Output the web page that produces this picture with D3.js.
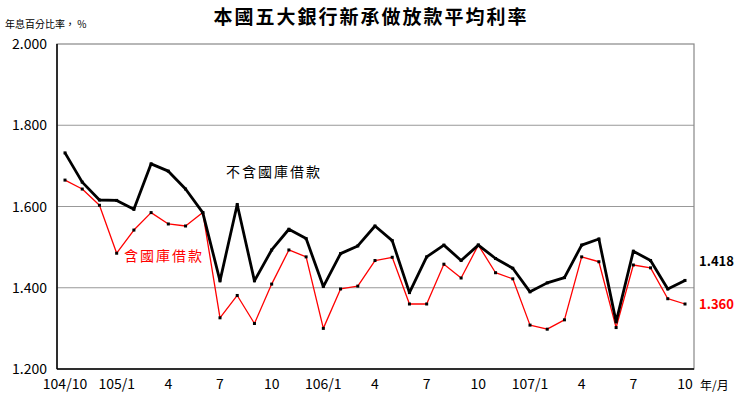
<!DOCTYPE html>
<html><head><meta charset="utf-8">
<script src="https://cdn.jsdelivr.net/npm/d3@7"></script>
<style>body{margin:0;background:#fff}text{font-family:"Noto Sans CJK TC","Liberation Serif",serif}</style>
</head><body><div id="chart"></div>
<script>
// 月份 104/10 ~ 107/10
const months = d3.range(37);
const tickLabels = ["104/10","105/1","4","7","10","106/1","4","7","10","107/1","4","7","10"];
const exclTreasury = [1.732,1.660,1.616,1.615,1.593,1.705,1.687,1.643,1.585,1.417,1.605,1.417,1.493,1.544,1.521,1.403,1.484,1.503,1.552,1.516,1.388,1.476,1.505,1.467,1.505,1.472,1.448,1.390,1.412,1.425,1.505,1.520,1.316,1.490,1.467,1.397,1.418];
const inclTreasury = [1.665,1.643,1.603,1.485,1.542,1.585,1.557,1.552,1.585,1.326,1.381,1.312,1.409,1.493,1.476,1.300,1.397,1.404,1.467,1.475,1.360,1.360,1.458,1.424,1.505,1.437,1.422,1.308,1.298,1.321,1.476,1.464,1.302,1.456,1.449,1.373,1.360];
const yTicks = [1.2,1.4,1.6,1.8,2.0];

const W = 742, H = 403;
const svg = d3.select('#chart').append('svg').attr('width', W).attr('height', H);

const x = d3.scaleLinear().domain([0, 36]).range([65, 685]);
const y = d3.scaleLinear().domain([1.2, 2.0]).range([369, 44]);

// 格線
svg.selectAll('.grid').data(yTicks.slice(1, 4)).join('line')
    .attr('x1', 57).attr('x2', 694)
    .attr('y1', d => y(d)).attr('y2', d => y(d))
    .attr('stroke', '#999').attr('stroke-width', 1.2);
svg.append('rect').attr('x', 57).attr('y', 44).attr('width', 637).attr('height', 325)
    .attr('fill', 'none').attr('stroke', '#888').attr('stroke-width', 1.2);
svg.append('line').attr('x1', 57).attr('x2', 57).attr('y1', 44).attr('y2', 369).attr('stroke', '#000').attr('stroke-width', 1.5);
svg.append('line').attr('x1', 57).attr('x2', 694).attr('y1', 369).attr('y2', 369).attr('stroke', '#000').attr('stroke-width', 1.5);

svg.selectAll('.yl').data(yTicks).join('text')
    .attr('x', 47).attr('y', d => y(d) + 5).attr('text-anchor', 'end')
    .attr('font-size', 14).attr('font-family', 'Liberation Serif').text(d => d.toFixed(3));
svg.selectAll('.xl').data(tickLabels).join('text')
    .attr('x', (d, i) => x(i * 3)).attr('y', 389).attr('text-anchor', 'middle')
    .attr('font-size', 14).attr('font-family', 'Liberation Serif').text(d => d);

const line = d3.line().x((d, i) => x(months[i])).y(d => y(d));
function series(data, color, w) {
    svg.append('path').datum(data).attr('d', line).attr('fill', 'none')
        .attr('stroke', color).attr('stroke-width', w).attr('stroke-linejoin', 'round');
    svg.selectAll(null).data(data).join('rect')
        .attr('x', (d, i) => x(months[i]) - 1.5).attr('y', d => y(d) - 1.5)
        .attr('width', 3).attr('height', 3).attr('fill', '#000');
}
series(inclTreasury, '#ff0000', 1.3);
series(exclTreasury, '#000', 2.8);

svg.append('text').attr('x', W / 2).attr('y', 24).attr('text-anchor', 'middle')
    .attr('font-size', 19).attr('font-weight', 'bold').attr('letter-spacing', 2).text('本國五大銀行新承做放款平均利率');
svg.append('text').attr('x', 5).attr('y', 28).attr('font-size', 10).text('年息百分比率， %');
svg.append('text').attr('x', 700).attr('y', 390).attr('font-size', 12).text('年/月');
svg.append('text').attr('x', 226).attr('y', 177).attr('font-size', 14).attr('letter-spacing', 2).text('不含國庫借款');
svg.append('text').attr('x', 124).attr('y', 261).attr('font-size', 14).attr('letter-spacing', 2).attr('fill', '#ff0000').text('含國庫借款');
svg.append('text').attr('x', 699).attr('y', y(1.418) - 14).attr('font-size', 13).attr('font-weight', 'bold')
    .attr('font-family', 'Liberation Serif').text(exclTreasury[36].toFixed(3));
svg.append('text').attr('x', 699).attr('y', y(1.360) + 5).attr('font-size', 13).attr('font-weight', 'bold')
    .attr('font-family', 'Liberation Serif').attr('fill', '#ff0000').text(inclTreasury[36].toFixed(3));
</script></body></html>
